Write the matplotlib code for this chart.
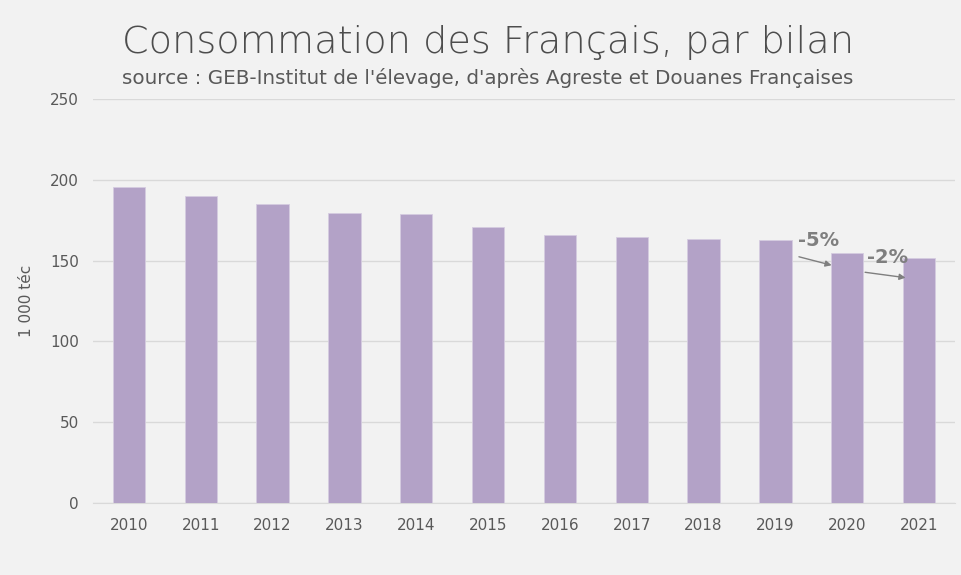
import matplotlib.pyplot as plt
import numpy as np

years = ["2010", "2011", "2012", "2013", "2014", "2015", "2016", "2017", "2018", "2019", "2020", "2021"]
conso = [195.5, 190, 185, 179.5, 179, 171, 166, 164.5, 163.5, 163, 154.5, 151.5]

bg = "#f2f2f2"
bar_col = "#b3a2c7"
txt = "#595959"

fig = plt.figure(figsize=(9.61, 5.75), dpi=100, facecolor=bg)
ax = fig.add_axes([93 / 961, 1 - 503 / 575, 862 / 961, 404 / 575], facecolor=bg)

x = np.arange(len(years))
ax.bar(x, conso, width=0.45, color=bar_col, edgecolor="#d5cce0", linewidth=0.6, zorder=3)

ax.set_ylim(0, 250)
ax.set_xlim(-0.5, len(years) - 0.5)
ax.set_yticks(range(0, 251, 50))
ax.set_xticks(x)
ax.set_xticklabels(years)
ax.grid(axis="y", color="#d9d9d9", linewidth=1, zorder=0)
for s in ax.spines.values():
    s.set_visible(False)
ax.spines["bottom"].set_visible(True)
ax.spines["bottom"].set_color("#d9d9d9")
ax.tick_params(axis="x", length=0, colors=txt, labelsize=11, pad=11)
ax.tick_params(axis="y", length=0, colors=txt, labelsize=11, pad=10)
ax.set_ylabel("1 000 téc", color=txt, fontsize=11, labelpad=12)

fig.text(488 / 961, 1 - 42 / 575, "Consommation des Français, par bilan", ha="center", va="center",
         fontsize=27.5, color="#4d4d4d", fontweight="light")
fig.text(488 / 961, 1 - 78 / 575, "source : GEB-Institut de l'élevage, d'après Agreste et Douanes Françaises",
         ha="center", va="center", fontsize=14.3, color=txt)

# annotations for the last two years
ax.annotate("", xy=(9.82, 146.7), xytext=(9.29, 152.8),
            arrowprops=dict(arrowstyle="-|>", color="#7f7f7f", lw=1, mutation_scale=9), zorder=5)
ax.text(9.6, 162.5, "-5%", ha="center", va="center", fontsize=14, color="#7f7f7f",
        fontweight="bold", zorder=5)
ax.annotate("", xy=(10.85, 139.2), xytext=(10.21, 143),
            arrowprops=dict(arrowstyle="-|>", color="#7f7f7f", lw=1, mutation_scale=9), zorder=5)
ax.text(10.56, 151.8, "-2%", ha="center", va="center", fontsize=14, color="#7f7f7f",
        fontweight="bold", zorder=5)

plt.savefig("out.png", dpi=100, facecolor=bg)
